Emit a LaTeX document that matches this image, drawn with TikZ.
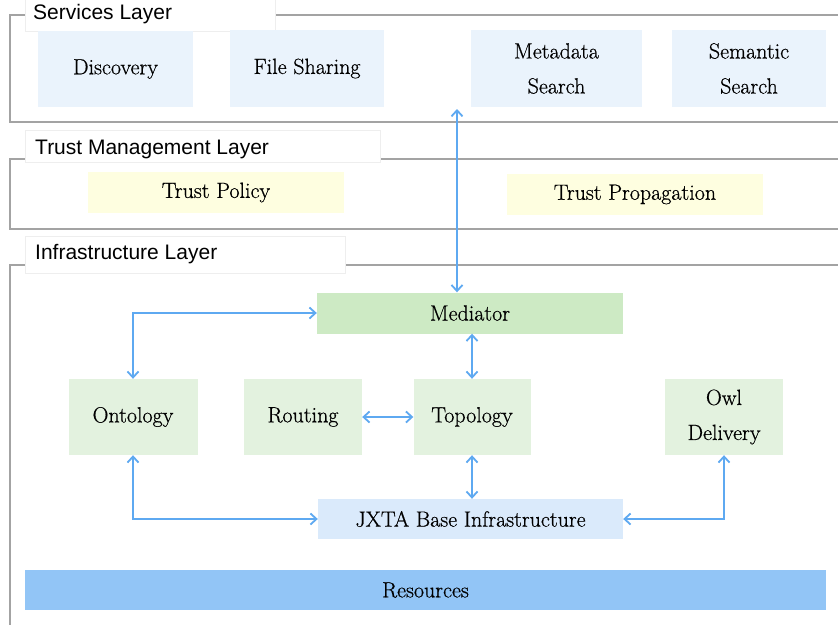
\documentclass[tikz,border=0pt]{standalone}
\usepackage{fontspec}
\newfontfamily\titlefont{Liberation Sans}
\newfontfamily\boxfont{Latin Modern Roman}[FakeBold=0.6]
\usetikzlibrary{arrows.meta}
\definecolor{frameg}{HTML}{A3A3A3}
\definecolor{svcbl}{HTML}{EAF3FC}
\definecolor{trustyl}{HTML}{FEFEE0}
\definecolor{medgr}{HTML}{CDEAC4}
\definecolor{infgr}{HTML}{E3F2DF}
\definecolor{jxtabl}{HTML}{DAEAFB}
\definecolor{resbl}{HTML}{92C5F6}
\definecolor{arrbl}{HTML}{5EA9F1}
\definecolor{faint}{HTML}{EEEEEE}
\tikzset{
  box/.style={inner sep=0pt, align=center, font=\boxfont\fontsize{22}{35}\selectfont},
  svcbox/.style={box, fill=svcbl},
  trustbox/.style={box, fill=trustyl},
  medbox/.style={box, fill=medgr},
  infbox/.style={box, fill=infgr},
  jxtabox/.style={box, fill=jxtabl},
  resbox/.style={box, fill=resbl},
  layerframe/.style={draw=frameg, line width=2.5pt},
  titlebg/.style={fill=white, draw=faint, line width=0.6pt},
  layertitle/.style={anchor=west, inner sep=0pt, font=\titlefont\fontsize{21}{24}\selectfont},
  conn/.style={draw=arrbl, line width=1.8pt, {Straight Barb[length=6pt,width=11pt]}-{Straight Barb[length=6pt,width=11pt]}}
}
\begin{document}
\begin{tikzpicture}[x=1pt,y=-1pt]
\useasboundingbox[fill=white] (0,0) rectangle (838,624);
% layer frames
\draw[layerframe] (850,15) -- (10,15) -- (10,122) -- (850,122);
\draw[layerframe] (850,159) -- (10,159) -- (10,229) -- (850,229);
\draw[layerframe] (850,265) -- (10,265) -- (10,640);
% title backgrounds
\draw[titlebg] (25,-2) rectangle (275,31);
\draw[titlebg] (25,130) rectangle (380,162);
\draw[titlebg] (25,236) rectangle (345,273);
\node[layertitle] (tsvc) at (33,14) {Services Layer};
\node[layertitle] (ttrust) at (35,149) {Trust Management Layer};
\node[layertitle] (tinf) at (35,254) {Infrastructure Layer};
% services
\node[svcbox, minimum width=155, minimum height=76] (disc) at (115.5,69) {Discovery};
\node[svcbox, minimum width=154, minimum height=77] (fs) at (307,68.5) {File Sharing};
\node[svcbox, minimum width=171, minimum height=77] (meta) at (556.5,68.5) {Metadata\\Search};
\node[svcbox, minimum width=154, minimum height=77] (sem) at (749,68.5) {Semantic\\Search};
% trust
\node[trustbox, minimum width=256, minimum height=41] (tpol) at (216,192.5) {Trust Policy};
\node[trustbox, minimum width=256, minimum height=41] (tprop) at (635,194.5) {Trust Propagation};
% infrastructure
\node[medbox, minimum width=306, minimum height=41] (med) at (470,313) {Mediator};
\node[infbox, minimum width=129, minimum height=76] (ont) at (133,417) {Ontology};
\node[infbox, minimum width=118, minimum height=76] (rout) at (303,417) {Routing};
\node[infbox, minimum width=117, minimum height=76] (topo) at (472,417) {Topology};
\node[infbox, minimum width=118, minimum height=76] (owl) at (724,417) {Owl\\Delivery};
\node[jxtabox, minimum width=305, minimum height=40] (jxta) at (470.5,519) {JXTA Base Infrastructure};
\node[resbox, minimum width=801, minimum height=40] (res) at (425.5,590) {Resources};
% connectors
\coordinate (svcend) at (457,109);
\draw[conn] (svcend) -- (med.north -| svcend);
\draw[conn] (ont.north) |- (med.west);
\draw[conn] (topo.north |- med.south) -- (topo.north);
\draw[conn] (rout.east) -- (topo.west);
\draw[conn] (topo.south) -- (topo.south |- jxta.north);
\draw[conn] (ont.south) |- (jxta.west);
\draw[conn] (owl.south) |- (jxta.east);
\end{tikzpicture}
\end{document}
